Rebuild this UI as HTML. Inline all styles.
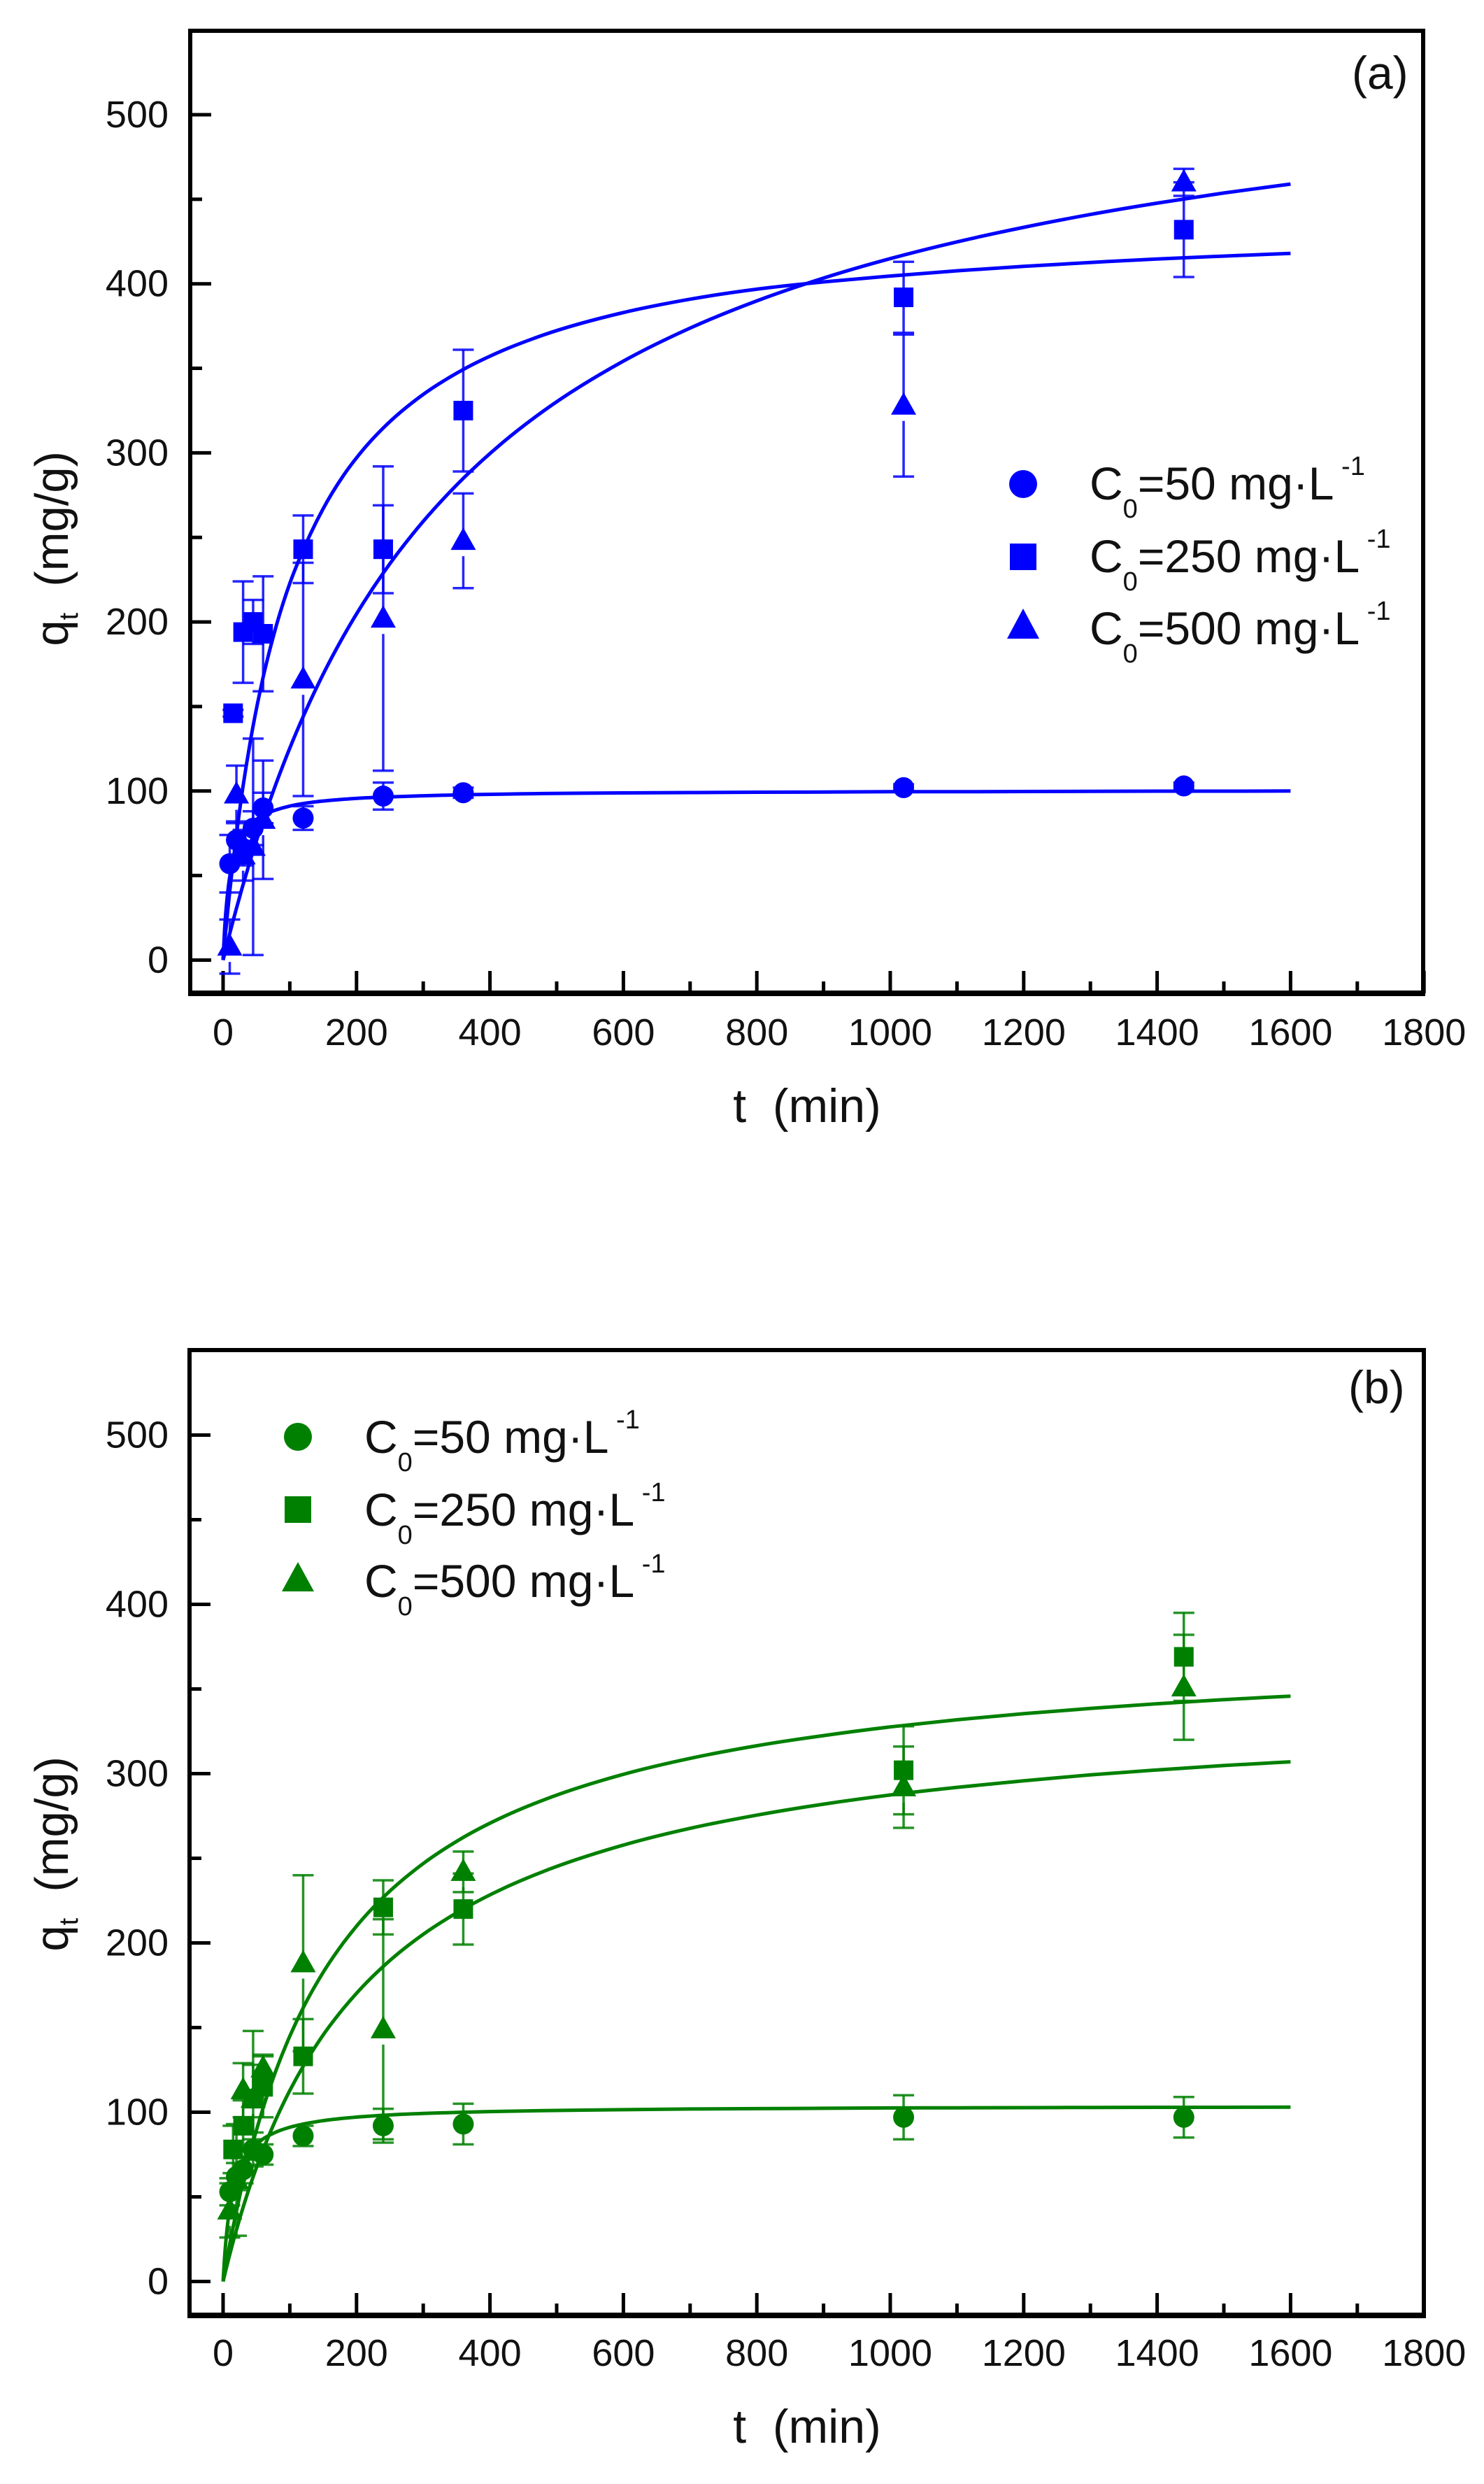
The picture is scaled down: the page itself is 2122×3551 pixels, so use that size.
<!DOCTYPE html>
<html lang="en">
<head>
<meta charset="utf-8">
<title>Adsorption kinetics charts</title>
<style>
html,body{margin:0;padding:0;background:#fff;}
svg{display:block;}
text{font-family:"Liberation Sans",sans-serif;fill:#111;}
.lg{font-size:66px;}
.tick{font-size:54px;}
</style>
</head>
<body>
<svg id="chart" xmlns="http://www.w3.org/2000/svg" width="2122" height="3551" viewBox="0 0 2122 3551">
  <rect x="0" y="0" width="2122" height="3551" fill="#fff"/>
  <g id="panelA"></g>
  <g id="panelB"></g>

  <text x="1933" y="127" font-size="66">(a)</text>
  <text x="1928" y="2006" font-size="66">(b)</text>

  <text x="1154" y="1604" font-size="68" text-anchor="middle" xml:space="preserve">t  (min)</text>
  <text x="1154" y="3492" font-size="68" text-anchor="middle" xml:space="preserve">t  (min)</text>

  <text transform="translate(97,645) rotate(-90)" font-size="67" text-anchor="end" xml:space="preserve">q<tspan font-size="38" dy="14">t</tspan><tspan dy="-14">  (mg/g)</tspan></text>
  <text transform="translate(97,2511) rotate(-90)" font-size="67" text-anchor="end" xml:space="preserve">q<tspan font-size="38" dy="14">t</tspan><tspan dy="-14">  (mg/g)</tspan></text>

  <g>
    <circle cx="1463" cy="692" r="20" fill="#0000ff"/>
    <rect x="1444" y="777" width="38" height="38" fill="#0000ff"/>
    <path d="M1463 870 L1486 913 L1440 913 Z" fill="#0000ff"/>
    <text class="lg" x="1558" y="714">C<tspan font-size="38" dy="26">0</tspan><tspan dy="-26">=50 mg·L</tspan><tspan font-size="38" dy="-35"> -1</tspan></text>
    <text class="lg" x="1558" y="818">C<tspan font-size="38" dy="26">0</tspan><tspan dy="-26">=250 mg·L</tspan><tspan font-size="38" dy="-35"> -1</tspan></text>
    <text class="lg" x="1558" y="921">C<tspan font-size="38" dy="26">0</tspan><tspan dy="-26">=500 mg·L</tspan><tspan font-size="38" dy="-35"> -1</tspan></text>
  </g>

  <g>
    <circle cx="426" cy="2054" r="20" fill="#008000"/>
    <rect x="407" y="2139" width="38" height="38" fill="#008000"/>
    <path d="M426 2233 L449 2275 L403 2275 Z" fill="#008000"/>
    <text class="lg" x="521" y="2077">C<tspan font-size="38" dy="26">0</tspan><tspan dy="-26">=50 mg·L</tspan><tspan font-size="38" dy="-35"> -1</tspan></text>
    <text class="lg" x="521" y="2181">C<tspan font-size="38" dy="26">0</tspan><tspan dy="-26">=250 mg·L</tspan><tspan font-size="38" dy="-35"> -1</tspan></text>
    <text class="lg" x="521" y="2283">C<tspan font-size="38" dy="26">0</tspan><tspan dy="-26">=500 mg·L</tspan><tspan font-size="38" dy="-35"> -1</tspan></text>
  </g>
</svg>

<script>
// Axis tick values
const xMajorTicks = [0,200,400,600,800,1000,1200,1400,1600,1800];
const xMinorTicks = [100,300,500,700,900,1100,1300,1500,1700];
const yMajorTicks = [0,100,200,300,400,500];
const yMinorTicks = [50,150,250,350,450];

// Panel (a) measurements
const aCircleT = [10,20,30,45,60,120,240,360,1020,1440];
const aCircleQ = [57,71,66,78,90,84,97,99,102,103];
const aCircleE = [17,11,10,10,9,7,8,3,2,2];
const aSquareT = [15,30,45,60,120,240,360,1020,1440];
const aSquareQ = [146,194,200,193,243,243,325,392,432];
const aSquareE = [2,30,13,34,20,26,36,21,28];
const aTriangleT = [10,20,30,45,60,120,240,360,1020,1440];
const aTriangleQ = [8,98,62,67,83,166,202,248,328,460];
const aTriangleE = [16,17,15,64,35,69,90,28,42,8];

// Panel (b) measurements
const bCircleT = [10,20,30,45,60,120,240,360,1020,1440];
const bCircleQ = [53,62,66,78,75,86,92,93,97,97];
const bCircleE = [8,8,8,6,6,6,10,12,13,12];
const bSquareT = [15,30,45,60,120,240,360,1020,1440];
const bSquareQ = [78,92,108,115,133,221,220,302,369];
const bSquareE = [14,15,20,18,22,16,21,26,26];
const bTriangleT = [10,20,30,45,60,120,240,360,1020,1440];
const bTriangleQ = [42,60,113,108,126,188,149,242,292,351];
const bTriangleE = [16,33,16,40,8,52,65,12,24,31];

// Fitted curves
const fitT = [0,2,4,6,8,10,15,20,25,30,40,50,60,80,100,120,150,180,210,240,300,360,420,480,600,700,800,900,1000,1100,1200,1300,1400,1500,1600];
const aFit50 = [0,16.2,27.9,36.8,43.7,49.3,59.4,66.2,71.0,74.7,79.8,83.3,85.7,88.9,91.1,92.6,94.1,95.1,95.9,96.4,97.2,97.8,98.2,98.5,98.9,99.1,99.3,99.4,99.6,99.6,99.7,99.8,99.9,99.9,100];
const aFit250 = [0,8.8,17.2,25.3,33.1,40.6,58.3,74.4,89.3,103,127.5,148.7,167.2,198.1,222.8,242.5,267,286.4,301.9,314.7,334.6,349.3,360.7,369.7,383,390.9,396.8,401.1,404.6,407.7,410.3,412.6,414.7,416.4,418];
const aFit500 = [0,3.2,6.4,9.5,12.6,15.7,23.3,30.6,37.7,44.6,58,70.6,82.7,105,125.4,144,169.1,191.3,211.1,228.9,259.5,284.9,306.4,324.7,354.3,373.8,389.9,403.4,414.9,424.8,433.4,441,447.7,453.7,459];
const bFit50 = [0,13,23.1,31.2,37.8,43.3,53.7,61.1,66.6,70.8,77,81.2,84.2,88.4,91.1,93,95,96.4,97.4,98.2,99.3,100,100.5,100.9,101.5,101.9,102.1,102.3,102.5,102.6,102.7,102.8,102.9,102.9,103];
const bFitUpper = [0,4.6,9.1,13.5,17.8,22,32.1,41.6,50.7,59.2,75.1,89.4,102.5,125.4,144.9,161.6,182.6,199.9,214.5,226.9,246.9,262.3,274.5,284.4,299.6,309,316.5,322.5,327.6,331.8,335.4,338.5,341.3,343.7,345.8];
const bFitLower = [0,3.3,6.6,9.7,12.9,15.9,23.4,30.5,37.3,43.8,56.1,67.3,77.8,96.5,112.8,127.1,145.6,161.1,174.5,186.1,205.1,220,232.2,242.2,257.8,267.7,275.5,282,287.4,291.9,295.8,299.3,302.2,304.8,307];

const SVG_NS = 'http://www.w3.org/2000/svg';
const BLUE = '#0000ff';
const GREEN = '#008000';

// Axis functions
function xScale(t){ return 319 + 0.954 * t; }
function yScaleA(q){ return 1372.5 - 2.417 * q; }
function yScaleB(q){ return 3261.5 - 2.42 * q; }

function make(parent, tag, props){
  const el = document.createElementNS(SVG_NS, tag);
  for (const k in props) el.setAttribute(k, props[k]);
  parent.appendChild(el);
  return el;
}

function drawTicksAndFrame(g, yScale, frame){
  xMajorTicks.forEach(function(v){
    const el = make(g, 'line', {x1:xScale(v), x2:xScale(v), y1:frame.bottom, y2:frame.bottom-32, stroke:'#000','stroke-width':5});
    
    
    const lb = make(g, 'text', {x:xScale(v), y:frame.bottom+frame.xLabelGap, 'text-anchor':'middle', 'class':'tick'});
    lb.textContent = String(v);
    
    
  });
  xMinorTicks.forEach(function(v){
    const el = make(g, 'line', {x1:xScale(v), x2:xScale(v), y1:frame.bottom, y2:frame.bottom-17, stroke:'#000','stroke-width':5});
    
    
  });
  yMajorTicks.forEach(function(v){
    const el = make(g, 'line', {x1:frame.left, x2:frame.left+30, y1:yScale(v), y2:yScale(v), stroke:'#000','stroke-width':5});
    
    
    const lb = make(g, 'text', {x:241, y:yScale(v)+18, 'text-anchor':'end', 'class':'tick'});
    lb.textContent = String(v);
    
    
  });
  yMinorTicks.forEach(function(v){
    const el = make(g, 'line', {x1:frame.left, x2:frame.left+17, y1:yScale(v), y2:yScale(v), stroke:'#000','stroke-width':5});
    
    
  });
  const box = make(g, 'rect', {x:frame.left, y:frame.top, width:frame.right-frame.left, height:frame.bottom-frame.top, fill:'none', stroke:'#000','stroke-width':6});
  
  
  const base = make(g, 'line', {x1:frame.left-3, x2:frame.right+3, y1:frame.bottom, y2:frame.bottom, stroke:'#000','stroke-width':8});
  
  
}

function drawErrors(g, ts, qs, es, yScale, color, lowerGap){
  ts.forEach(function(t, i){
    const x = xScale(t), yc = yScale(qs[i]), yu = yScale(qs[i]+es[i]), yd = yScale(qs[i]-es[i]);
    const st = {stroke:color,'stroke-width':3.5,'stroke-opacity':0.85};
    const up = make(g, 'line', Object.assign({x1:x, x2:x, y1:yc, y2:yu}, st));
    
    
    const capU = make(g, 'line', Object.assign({x1:x-15, x2:x+15, y1:yu, y2:yu}, st));
    
    
    if (yd > yc + lowerGap) {
      const down = make(g, 'line', Object.assign({x1:x, x2:x, y1:yc+lowerGap, y2:yd}, st));
      
      
    }
    const capD = make(g, 'line', Object.assign({x1:x-15, x2:x+15, y1:yd, y2:yd}, st));
    
    
  });
}

function drawCurve(g, ys, yScale, color){
  const px = fitT.map(function(t){ return xScale(t); });
  const py = ys.map(function(v){ return yScale(v); });
  const n = px.length;
  const slope = [];
  for (let i = 0; i < n; i++) {
    if (i === 0) { slope.push((py[1]-py[0])/(px[1]-px[0])); continue; }
    if (i === n-1) { slope.push((py[n-1]-py[n-2])/(px[n-1]-px[n-2])); continue; }
    const h1 = px[i]-px[i-1], h2 = px[i+1]-px[i];
    const d1 = (py[i]-py[i-1])/h1, d2 = (py[i+1]-py[i])/h2;
    slope.push((h2*d1 + h1*d2)/(h1+h2));
  }
  let d = 'M' + px[0].toFixed(1) + ' ' + py[0].toFixed(1);
  for (let i = 0; i < n-1; i++) {
    const h = (px[i+1]-px[i])/3;
    d += ' C' + (px[i]+h).toFixed(1) + ' ' + (py[i]+slope[i]*h).toFixed(1) + ' ' +
         (px[i+1]-h).toFixed(1) + ' ' + (py[i+1]-slope[i+1]*h).toFixed(1) + ' ' +
         px[i+1].toFixed(1) + ' ' + py[i+1].toFixed(1);
  }
  const el = make(g, 'path', {d:d, fill:'none', stroke:color, 'stroke-width':5, 'stroke-linejoin':'round'});
  
  
}

function drawCircles(g, ts, qs, yScale, color){
  ts.forEach(function(t, i){
    const el = make(g, 'circle', {cx:xScale(t), cy:yScale(qs[i]), r:15, fill:color});
    
    
  });
}

function drawSquares(g, ts, qs, yScale, color){
  ts.forEach(function(t, i){
    const el = make(g, 'rect', {x:xScale(t)-14, y:yScale(qs[i])-14, width:28, height:28, fill:color});
    
    
  });
}

function drawTriangles(g, ts, qs, yScale, color){
  ts.forEach(function(t, i){
    const x = xScale(t), y = yScale(qs[i]);
    const d = 'M' + x + ' ' + (y-19) + ' L' + (x+18) + ' ' + (y+13) + ' L' + (x-18) + ' ' + (y+13) + ' Z';
    const el = make(g, 'path', {d:d, fill:color});
    
    
  });
}

// Panel (a)
(function(){
  const g = document.getElementById('panelA');
  drawTicksAndFrame(g, yScaleA, {left:272, right:2035, top:44, bottom:1420, xLabelGap:74});
  drawErrors(g, aSquareT, aSquareQ, aSquareE, yScaleA, BLUE, 0);
  drawErrors(g, aTriangleT, aTriangleQ, aTriangleE, yScaleA, BLUE, 22);
  drawErrors(g, aCircleT, aCircleQ, aCircleE, yScaleA, BLUE, 0);
  drawCurve(g, aFit50, yScaleA, BLUE);
  drawCurve(g, aFit250, yScaleA, BLUE);
  drawCurve(g, aFit500, yScaleA, BLUE);
  drawCircles(g, aCircleT, aCircleQ, yScaleA, BLUE);
  drawSquares(g, aSquareT, aSquareQ, yScaleA, BLUE);
  drawTriangles(g, aTriangleT, aTriangleQ, yScaleA, BLUE);
})();

// Panel (b)
(function(){
  const g = document.getElementById('panelB');
  drawTicksAndFrame(g, yScaleB, {left:271, right:2036, top:1930, bottom:3310, xLabelGap:72});
  drawErrors(g, bSquareT, bSquareQ, bSquareE, yScaleB, GREEN, 0);
  drawErrors(g, bTriangleT, bTriangleQ, bTriangleE, yScaleB, GREEN, 22);
  drawErrors(g, bCircleT, bCircleQ, bCircleE, yScaleB, GREEN, 0);
  drawCurve(g, bFit50, yScaleB, GREEN);
  drawCurve(g, bFitUpper, yScaleB, GREEN);
  drawCurve(g, bFitLower, yScaleB, GREEN);
  drawCircles(g, bCircleT, bCircleQ, yScaleB, GREEN);
  drawSquares(g, bSquareT, bSquareQ, yScaleB, GREEN);
  drawTriangles(g, bTriangleT, bTriangleQ, yScaleB, GREEN);
})();
</script>
</body>
</html>
